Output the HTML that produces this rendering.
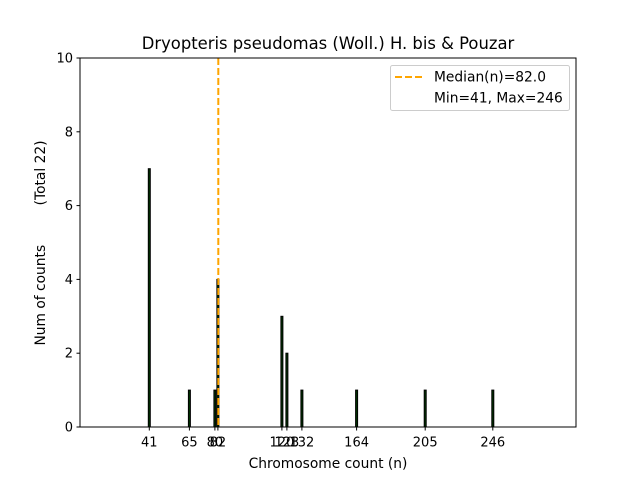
<!DOCTYPE html>
<html><head><style>body{margin:0;background:#fff}</style></head><body>
<svg width="640" height="480" xmlns="http://www.w3.org/2000/svg" font-family="'DejaVu Sans', sans-serif" font-size="12">
<rect width="640" height="480" fill="#fff"/>
<text x="328" y="49" text-anchor="middle" font-size="16.4">Dryopteris pseudomas (Woll.) H. bis &amp; Pouzar</text>
<g fill="#003300" stroke="#000" stroke-width="1">
<rect x="148.3" y="168.7" width="2" height="258.3"/>
<rect x="188.4" y="390.1" width="2" height="36.9"/>
<rect x="213.9" y="390.1" width="2" height="36.9"/>
<rect x="216.9" y="279.4" width="2" height="147.6"/>
<rect x="280.9" y="316.3" width="2" height="110.7"/>
<rect x="285.9" y="353.2" width="2" height="73.8"/>
<rect x="300.9" y="390.1" width="2" height="36.9"/>
<rect x="355.6" y="390.1" width="2" height="36.9"/>
<rect x="424.2" y="390.1" width="2" height="36.9"/>
<rect x="491.8" y="390.1" width="2" height="36.9"/>
</g>
<line x1="218.3" y1="58" x2="218.3" y2="427" stroke="#ffa500" stroke-width="2" stroke-dasharray="7,3"/>
<rect x="80" y="58" width="496" height="369" fill="none" stroke="#000" stroke-width="1"/>
<g stroke="#000">
<line x1="80" y1="427" x2="76.5" y2="427"/><line x1="80" y1="353.2" x2="76.5" y2="353.2"/><line x1="80" y1="279.4" x2="76.5" y2="279.4"/><line x1="80" y1="205.6" x2="76.5" y2="205.6"/><line x1="80" y1="131.8" x2="76.5" y2="131.8"/><line x1="80" y1="58" x2="76.5" y2="58"/>
<line x1="149.3" y1="427" x2="149.3" y2="430.5"/><line x1="189.4" y1="427" x2="189.4" y2="430.5"/><line x1="214.9" y1="427" x2="214.9" y2="430.5"/><line x1="217.9" y1="427" x2="217.9" y2="430.5"/><line x1="281.9" y1="427" x2="281.9" y2="430.5"/><line x1="286.9" y1="427" x2="286.9" y2="430.5"/><line x1="301.9" y1="427" x2="301.9" y2="430.5"/><line x1="356.6" y1="427" x2="356.6" y2="430.5"/><line x1="425.2" y1="427" x2="425.2" y2="430.5"/><line x1="492.8" y1="427" x2="492.8" y2="430.5"/>
</g>
<g text-anchor="end" font-size="13">
<text x="73" y="431.5">0</text><text x="73" y="357.7">2</text><text x="73" y="283.9">4</text><text x="73" y="210.1">6</text><text x="73" y="136.3">8</text><text x="73" y="62.5">10</text>
</g>
<g text-anchor="middle" font-size="13">
<text x="149.3" y="446.5">41</text><text x="189.4" y="446.5">65</text><text x="214.9" y="446.5">80</text><text x="217.9" y="446.5">82</text><text x="281.9" y="446.5">120</text><text x="286.9" y="446.5">123</text><text x="301.9" y="446.5">132</text><text x="356.6" y="446.5">164</text><text x="425.2" y="446.5">205</text><text x="492.8" y="446.5">246</text>
<text x="328" y="468" font-size="13.8">Chromosome count (n)</text>
</g>
<text transform="translate(45,243) rotate(-90)" text-anchor="middle" font-size="13.8" xml:space="preserve">Num of counts         (Total 22)</text>
<rect x="390.5" y="65.5" width="179" height="45" rx="2" fill="#fff" stroke="#ccc"/>
<line x1="395" y1="77" x2="423" y2="77" stroke="#ffa500" stroke-width="2" stroke-dasharray="7,3"/>
<text x="434" y="81.5" font-size="13.8">Median(n)=82.0</text>
<text x="434" y="102.5" font-size="13.8">Min=41, Max=246</text>
</svg>
</body></html>
